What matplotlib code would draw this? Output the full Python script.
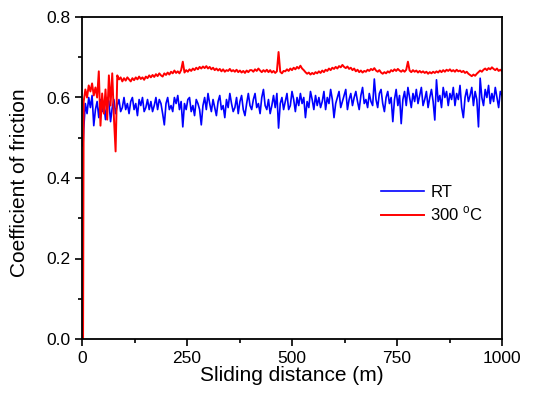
import numpy as np
import matplotlib
matplotlib.use('Agg')
import matplotlib.pyplot as plt
from matplotlib.ticker import MultipleLocator

plt.rcParams['font.family'] = ['Liberation Sans', 'DejaVu Sans']

# sliding distance grid (m): start point + 250 samples up to 1000 m
distance = np.r_[2.5, np.linspace(4, 1000, 250)]

# coefficient of friction, room temperature
cof_rt = [
    0.48,
    0.52, 0.585, 0.56, 0.60, 0.575, 0.605, 0.53, 0.57, 0.59, 0.55,
    0.595, 0.565, 0.58, 0.545, 0.60, 0.59, 0.54, 0.575, 0.595, 0.56,
    0.58, 0.595, 0.565, 0.575, 0.60, 0.57, 0.585, 0.56, 0.59, 0.60,
    0.57, 0.585, 0.555, 0.595, 0.58, 0.60, 0.565, 0.575, 0.595, 0.57,
    0.59, 0.565, 0.58, 0.60, 0.57, 0.595, 0.585, 0.56, 0.532, 0.585,
    0.60, 0.57, 0.58, 0.565, 0.60, 0.585, 0.605, 0.57, 0.59, 0.527,
    0.585, 0.57, 0.595, 0.60, 0.565, 0.58, 0.555, 0.595, 0.585, 0.57,
    0.532, 0.58, 0.60, 0.57, 0.61, 0.585, 0.565, 0.595, 0.575, 0.555,
    0.59, 0.605, 0.57, 0.58, 0.55, 0.595, 0.575, 0.61, 0.585, 0.565,
    0.575, 0.60, 0.56, 0.59, 0.605, 0.57, 0.555, 0.585, 0.61, 0.58,
    0.57, 0.595, 0.61, 0.575, 0.585, 0.56, 0.60, 0.62, 0.58, 0.57,
    0.595, 0.56, 0.58, 0.605, 0.575, 0.61, 0.524, 0.585, 0.60, 0.57,
    0.59, 0.61, 0.57, 0.58, 0.615, 0.595, 0.565, 0.60, 0.58, 0.61,
    0.585, 0.60, 0.55, 0.59, 0.575, 0.615, 0.595, 0.57, 0.605, 0.58,
    0.60, 0.575, 0.59, 0.615, 0.57, 0.60, 0.585, 0.62, 0.595, 0.55,
    0.585, 0.60, 0.615, 0.575, 0.59, 0.605, 0.62, 0.57, 0.595, 0.61,
    0.58, 0.60, 0.615, 0.59, 0.57, 0.605, 0.625, 0.585, 0.595, 0.575,
    0.61, 0.59, 0.58, 0.646, 0.595, 0.575, 0.61, 0.62, 0.585, 0.565,
    0.60, 0.615, 0.585, 0.60, 0.54, 0.595, 0.62, 0.58, 0.605, 0.535,
    0.595, 0.615, 0.58, 0.625, 0.60, 0.575, 0.61, 0.59, 0.62, 0.585,
    0.605, 0.625, 0.58, 0.595, 0.615, 0.575, 0.60, 0.62, 0.59, 0.544,
    0.644, 0.59, 0.605, 0.575, 0.625, 0.60, 0.615, 0.58, 0.61, 0.595,
    0.625, 0.58, 0.61, 0.595, 0.63, 0.575, 0.55, 0.60, 0.62, 0.59,
    0.605, 0.625, 0.58, 0.615, 0.595, 0.527, 0.648, 0.60, 0.58, 0.62,
    0.60, 0.63, 0.585, 0.61, 0.59, 0.625, 0.60, 0.575, 0.615, 0.605,
]

# coefficient of friction, 300 C
cof_300 = [
    0.0,
    0.59, 0.62, 0.60, 0.63, 0.615, 0.635, 0.605, 0.625, 0.60, 0.665,
    0.53, 0.61, 0.56, 0.62, 0.545, 0.655, 0.58, 0.66, 0.55, 0.466,
    0.655, 0.645, 0.65, 0.64, 0.648, 0.642, 0.65, 0.645, 0.64, 0.648,
    0.643, 0.65, 0.645, 0.652, 0.646, 0.65, 0.644, 0.652, 0.648, 0.655,
    0.65, 0.656, 0.651, 0.658, 0.653, 0.66, 0.655, 0.652, 0.66, 0.656,
    0.662, 0.657, 0.664, 0.66, 0.667, 0.661, 0.665, 0.66, 0.668, 0.689,
    0.662, 0.668, 0.664, 0.67, 0.666, 0.672, 0.668, 0.674, 0.67, 0.676,
    0.672, 0.677, 0.673, 0.678, 0.672, 0.676, 0.67, 0.674, 0.668, 0.672,
    0.667, 0.671, 0.665, 0.67, 0.664, 0.668, 0.666, 0.671, 0.665, 0.668,
    0.664, 0.669, 0.663, 0.667, 0.662, 0.666, 0.661, 0.667, 0.663, 0.668,
    0.668, 0.664, 0.67, 0.666, 0.672, 0.667, 0.663, 0.668, 0.664, 0.669,
    0.663, 0.668, 0.662, 0.666, 0.661, 0.665, 0.713, 0.664, 0.66, 0.666,
    0.665, 0.67, 0.666, 0.672, 0.668, 0.674, 0.67, 0.676, 0.672, 0.679,
    0.672, 0.668, 0.663, 0.659, 0.662, 0.657, 0.661, 0.658, 0.663, 0.66,
    0.665, 0.661, 0.667, 0.663, 0.669, 0.666, 0.672, 0.668, 0.674, 0.671,
    0.676, 0.672, 0.678, 0.675, 0.681, 0.676, 0.673, 0.677, 0.671, 0.674,
    0.668, 0.672, 0.665, 0.669, 0.663, 0.667, 0.662, 0.666, 0.664, 0.669,
    0.666, 0.671, 0.668, 0.673, 0.667, 0.664, 0.668, 0.662, 0.659, 0.663,
    0.66, 0.665, 0.662, 0.668, 0.665, 0.67, 0.666, 0.671, 0.667, 0.664,
    0.668, 0.664, 0.669, 0.689, 0.667, 0.663, 0.668, 0.664, 0.667, 0.662,
    0.666, 0.662, 0.665, 0.661, 0.664, 0.659, 0.663, 0.66, 0.664, 0.661,
    0.665, 0.662, 0.667, 0.663, 0.668, 0.664, 0.669, 0.666, 0.67, 0.665,
    0.668, 0.664, 0.669, 0.665, 0.667, 0.663, 0.666, 0.661, 0.664, 0.659,
    0.656, 0.653, 0.657, 0.654, 0.659, 0.663, 0.667, 0.664, 0.669, 0.672,
    0.668, 0.673, 0.67, 0.675, 0.671, 0.668, 0.672, 0.666, 0.669, 0.665,
]

fig = plt.figure(figsize=(5.38, 3.97), dpi=100)
ax = fig.add_axes([82 / 538, 58 / 397, 420 / 538, 322 / 397])

ax.plot(distance, cof_rt, color='#0000ff', lw=1.2, label='RT')
ax.plot(distance, cof_300, color='#ff0000', lw=1.4, label='300 $^\\mathregular{o}$C')

ax.set_xlim(0, 1000)
ax.set_ylim(0, 0.8)
ax.xaxis.set_major_locator(MultipleLocator(250))
ax.xaxis.set_minor_locator(MultipleLocator(125))
ax.yaxis.set_major_locator(MultipleLocator(0.2))
ax.yaxis.set_minor_locator(MultipleLocator(0.1))
ax.yaxis.set_major_formatter(plt.FormatStrFormatter('%.1f'))
ax.tick_params(which='both', direction='out', top=False, right=False, labelsize=12.5)
ax.tick_params(which='major', length=5, width=1.2)
ax.tick_params(which='minor', length=3, width=1.2)
for s in ax.spines.values():
    s.set_linewidth(1.3)

ax.set_xlabel('Sliding distance (m)', fontsize=15, labelpad=0)
ax.set_ylabel('Coefficient of friction', fontsize=15)
ax.yaxis.set_label_coords(-0.127, 0.484)

ax.legend(loc='upper left', bbox_to_anchor=(0.675, 0.525), frameon=False,
          fontsize=12, handlelength=2.6, handletextpad=0.4, labelspacing=0.3)

fig.savefig('out.png', dpi=100)
